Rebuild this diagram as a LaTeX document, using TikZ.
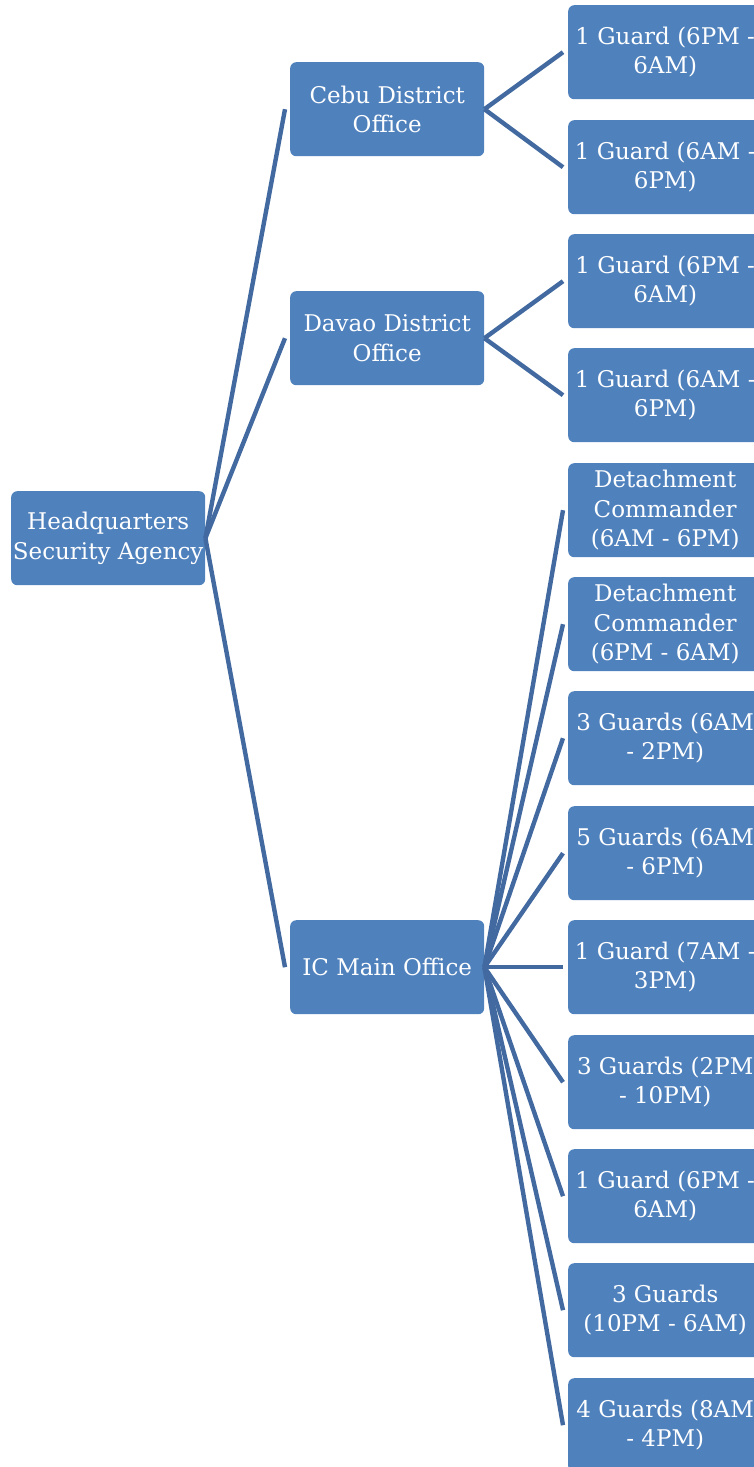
\documentclass[tikz,border=0pt]{standalone}
\usepackage{fontspec}
\setmainfont{DejaVu Serif}
\definecolor{boxblue}{RGB}{79,129,189}
\definecolor{linkblue}{RGB}{66,106,161}
\begin{document}
\begin{tikzpicture}[x=1pt,y=-1pt,
  box/.style={draw=none,fill=boxblue,rounded corners=6pt,minimum width=194pt,minimum height=94pt,inner sep=0pt,align=center,text=white,font=\fontsize{23}{29.3}\selectfont,anchor=north west},
  link/.style={draw=linkblue,line width=4.4pt}]
\useasboundingbox (0,0) rectangle (754,1467);
\clip (0,0) rectangle (754,1467);
\node[box] (hq) at (11,491) {Headquarters\\Security Agency};
\node[box] (cebu) at (290,62) {Cebu District\\Office};
\node[box] (davao) at (290,291) {Davao District\\Office};
\node[box] (ic) at (290,920) {IC Main Office};
\node[box] (c1) at (568,5) {1 Guard (6PM -\\6AM)};
\node[box] (c2) at (568,120) {1 Guard (6AM -\\6PM)};
\node[box] (d1) at (568,234) {1 Guard (6PM -\\6AM)};
\node[box] (d2) at (568,348) {1 Guard (6AM -\\6PM)};
\node[box] (i1) at (568,463) {Detachment\\Commander\\(6AM - 6PM)};
\node[box] (i2) at (568,577) {Detachment\\Commander\\(6PM - 6AM)};
\node[box] (i3) at (568,691) {3 Guards (6AM\\- 2PM)};
\node[box] (i4) at (568,806) {5 Guards (6AM\\- 6PM)};
\node[box] (i5) at (568,920) {1 Guard (7AM -\\3PM)};
\node[box] (i6) at (568,1035) {3 Guards (2PM\\- 10PM)};
\node[box] (i7) at (568,1149) {1 Guard (6PM -\\6AM)};
\node[box] (i8) at (568,1263) {3 Guards\\(10PM - 6AM)};
\node[box] (i9) at (568,1378) {4 Guards (8AM\\- 4PM)};
\foreach \c in {cebu,davao,ic} \draw[link] (hq.east) -- ([xshift=-5pt]\c.west);
\foreach \c in {c1,c2} \draw[link] (cebu.east) -- ([xshift=-5pt]\c.west);
\foreach \c in {d1,d2} \draw[link] (davao.east) -- ([xshift=-5pt]\c.west);
\foreach \c in {i1,i2,i3,i4,i5,i6,i7,i8,i9} \draw[link] (ic.east) -- ([xshift=-5pt]\c.west);
\end{tikzpicture}
\end{document}
